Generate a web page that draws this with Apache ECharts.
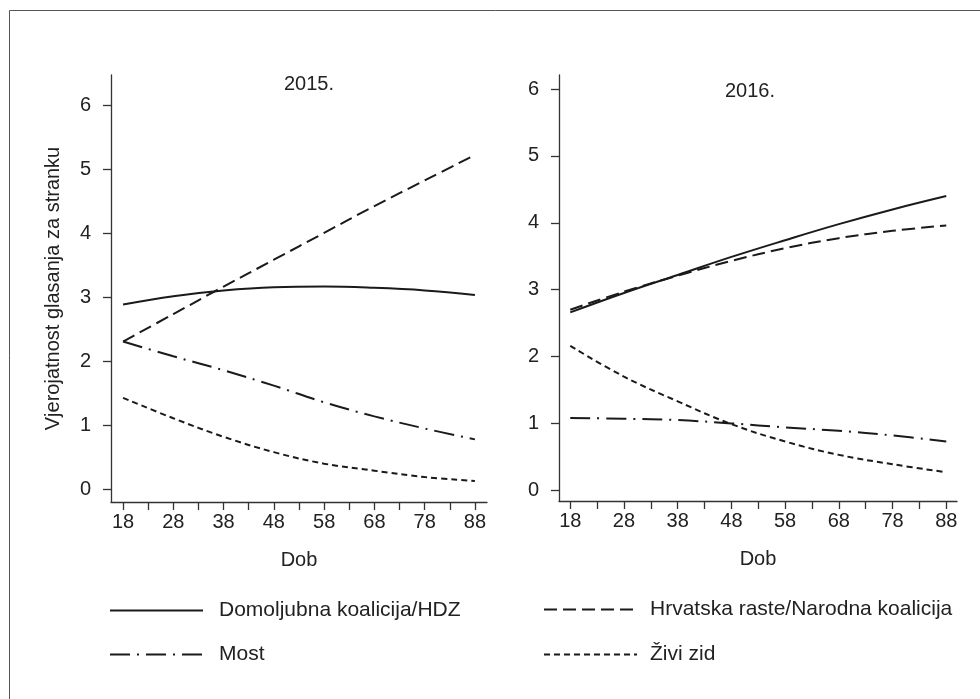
<!DOCTYPE html>
<html>
<head>
<meta charset="utf-8">
<script src="https://cdn.jsdelivr.net/npm/echarts@6/dist/echarts.min.js"></script>
<style>
html,body{margin:0;padding:0;background:#fff;}
#chart{width:980px;height:699px;}
</style>
</head>
<body>
<div id="chart"></div>
<script>
// ---- data ----
const ages = [18, 28, 38, 48, 58, 68, 78, 88];
const xLabelValues = [18, 28, 38, 48, 58, 68, 78, 88];
const xTickValues = [18, 23, 28, 33, 38, 43, 48, 53, 58, 63, 68, 73, 78, 83, 88];
const yTickValues = [0, 1, 2, 3, 4, 5, 6];
const seriesNames = ['Domoljubna koalicija/HDZ', 'Hrvatska raste/Narodna koalicija', 'Most', 'Živi zid'];
const panelTitles = ['2015.', '2016.'];

// 2015
const hdz2015   = [2.89, 3.02, 3.11, 3.16, 3.17, 3.15, 3.11, 3.04];
const hrast2015 = [2.31, 2.74, 3.17, 3.59, 4.01, 4.43, 4.83, 5.23];
const most2015  = [2.31, 2.08, 1.86, 1.62, 1.36, 1.14, 0.95, 0.78];
const zid2015   = [1.43, 1.11, 0.82, 0.58, 0.40, 0.29, 0.19, 0.13];
// 2016
const hdz2016   = [2.66, 2.95, 3.22, 3.49, 3.74, 3.98, 4.20, 4.40];
const hrast2016 = [2.70, 2.97, 3.21, 3.43, 3.62, 3.77, 3.88, 3.96];
const most2016  = [1.08, 1.07, 1.05, 1.00, 0.94, 0.89, 0.82, 0.73];
const zid2016   = [2.16, 1.70, 1.33, 0.99, 0.73, 0.53, 0.39, 0.27];

const FONT = '"Liberation Sans", Arial, sans-serif';
const INK = '#1a1a1a';
const AX = '#333';
const TXT = '#222';
const dashes = [null, [13, 6], [20, 7, 2, 7], [6, 4]];

const zip = (ys) => ages.map((a, i) => [a, ys[i]]);
const panels = [
  [hdz2015, hrast2015, most2015, zid2015],
  [hdz2016, hrast2016, most2016, zid2016]
];

const series = [];
panels.forEach((vals, p) => {
  vals.forEach((ys, k) => {
    series.push({
      name: seriesNames[k],
      type: 'line',
      xAxisIndex: p, yAxisIndex: p,
      data: zip(ys),
      smooth: 0.4,
      symbol: 'none',
      showSymbol: false,
      silent: true,
      lineStyle: { color: INK, width: 2, type: dashes[k] ? dashes[k] : 'solid' },
      itemStyle: { color: INK }
    });
  });
});

function xAxis(idx, min, max) {
  return {
    type: 'value', gridIndex: idx, min: min, max: max,
    name: 'Dob', nameLocation: 'middle', nameGap: 48,
    nameTextStyle: { fontFamily: FONT, fontSize: 20, color: TXT },
    axisLine: { show: true, onZero: false, lineStyle: { color: AX, width: 1.3 } },
    axisTick: { show: true, length: 8, customValues: xTickValues, lineStyle: { color: AX, width: 1.3 } },
    axisLabel: { customValues: xLabelValues, margin: 10, fontFamily: FONT, fontSize: 20, color: TXT },
    splitLine: { show: false }
  };
}
function yAxis(idx, min, max, withName) {
  const o = {
    type: 'value', gridIndex: idx, min: min, max: max,
    axisLine: { show: true, onZero: false, lineStyle: { color: AX, width: 1.3 } },
    axisTick: { show: true, length: 8, customValues: yTickValues, lineStyle: { color: AX, width: 1.3 } },
    axisLabel: { customValues: yTickValues, margin: 20, fontFamily: FONT, fontSize: 20, color: TXT },
    splitLine: { show: false }
  };
  if (withName) {
    o.name = 'Vjerojatnost glasanja za stranku';
    o.nameLocation = 'middle';
    o.nameGap = 48;
    o.nameTextStyle = { fontFamily: FONT, fontSize: 20, color: TXT };
  }
  return o;
}

function legend(name, left, top, pad) {
  return {
    data: [name], left: left, top: top, padding: 0,
    itemWidth: 93, itemHeight: 14, selectedMode: false,
    itemStyle: { opacity: 0 },
    textStyle: { fontFamily: FONT, fontSize: 21, color: TXT, padding: [0, 0, 0, pad] }
  };
}

const chart = echarts.init(document.getElementById('chart'), null, { renderer: 'canvas' });
chart.setOption({
  backgroundColor: '#fff',
  animation: false,
  title: [
    { text: panelTitles[0], left: 309, top: 74, textAlign: 'center', padding: 0,
      textStyle: { fontFamily: FONT, fontSize: 20, fontWeight: 'normal', color: TXT } },
    { text: panelTitles[1], left: 750, top: 81, textAlign: 'center', padding: 0,
      textStyle: { fontFamily: FONT, fontSize: 20, fontWeight: 'normal', color: TXT } }
  ],
  grid: [
    { left: 111, top: 75, width: 376, height: 427 },
    { left: 559, top: 75, width: 398, height: 426 }
  ],
  xAxis: [xAxis(0, 15.6, 90.4), xAxis(1, 15.9, 90.0)],
  yAxis: [yAxis(0, -0.2, 6.48, true), yAxis(1, -0.16, 6.21, false)],
  legend: [
    legend(seriesNames[0], 109, 600, 11),
    legend(seriesNames[1], 543, 599, 8),
    legend(seriesNames[2], 109, 644, 11),
    legend(seriesNames[3], 543, 644, 8)
  ],
  graphic: [{
    type: 'rect', silent: true,
    shape: { x: 9.5, y: 10.5, width: 1200, height: 1200 },
    style: { fill: 'none', stroke: '#555', lineWidth: 1 }
  }],
  series: series
});
</script>
</body>
</html>
